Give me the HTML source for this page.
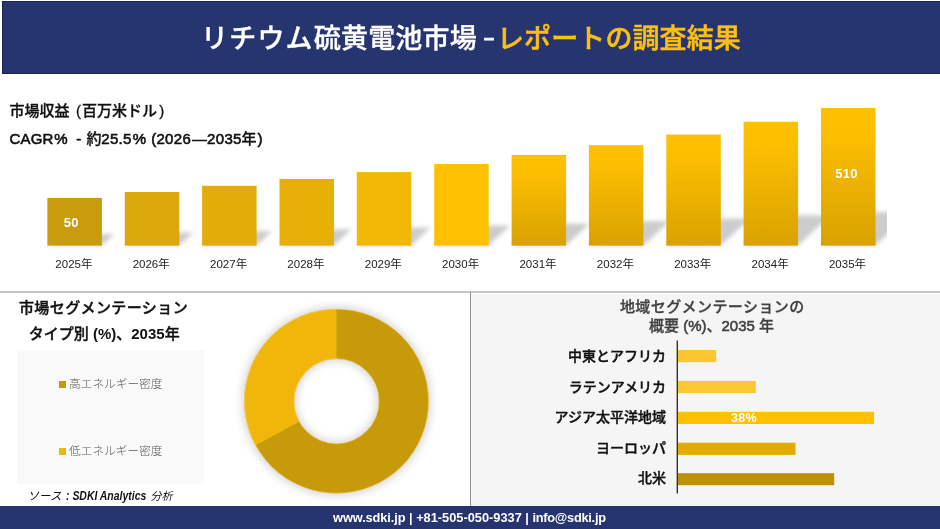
<!DOCTYPE html>
<html lang="ja">
<head>
<meta charset="utf-8">
<title>リチウム硫黄電池市場 – レポートの調査結果</title>
<style>
  html, body { margin: 0; padding: 0; }
  body { width: 940px; height: 529px; position: relative; overflow: hidden; background: #ffffff;
         font-family: "Liberation Sans", "Noto Sans CJK JP", sans-serif; color: #111; }
  .abs { position: absolute; white-space: nowrap; }
  #header { left: 1.6px; top: 1px; width: 939px; height: 72.7px; background: #263470; box-shadow: inset 0.6px 0.6px 0 0.2px #18204c, inset 0 -0.6px 0 0.2px #18204c; box-sizing: border-box; }
  .ttl { top: 19px; font-size: 27px; line-height: 40px; font-weight: 500; color: #fff; letter-spacing: 0.35px; -webkit-text-stroke: 0.35px currentColor; }
  .ttl.g { color: #fdc010; letter-spacing: 0.1px; -webkit-text-stroke: 0.5px currentColor; }
  #footer { left: 0; top: 506px; width: 940px; height: 23px; background: #263470; }
  #foottext { left: -0.6px; top: 506px; width: 940px; text-align: center; font-size: 12.8px; line-height: 23px; font-weight: 700; color: #fff; }
  .h1 { font-size: 15px; font-weight: 500; color: #111; line-height: 20px; -webkit-text-stroke: 0.6px currentColor; }
  .cj { -webkit-text-stroke: 0.3px currentColor !important; }
  .yr { font-size: 11.5px; color: #222; width: 78px; text-align: center; line-height: 14px; top: 256.5px; }
  .val { font-size: 13px; letter-spacing: 0.3px; font-weight: 700; color: #fff; text-align: center; line-height: 14px; }
  #hline { left: 0; top: 291px; width: 940px; height: 2px; background: #c6c6c6; }
  #vline { left: 470px; top: 292px; width: 1px; height: 214px; background: #909090; }
  #rpanel { left: 471px; top: 294px; width: 469px; height: 212px; background: #f5f5f5; }
  #lpanel { left: 17px; top: 350px; width: 187px; height: 134px; background: #f9f9f9; }
  .seg { font-size: 15px; font-weight: 500; color: #111; text-align: center; line-height: 20px; -webkit-text-stroke: 0.4px currentColor; }
  .seg b { font-weight: 700; -webkit-text-stroke: 0; }
  .leg { font-size: 11.7px; color: #595959; font-weight: 300; line-height: 14px; }
  .leg i { display: inline-block; width: 7px; height: 7px; margin-right: 3px; vertical-align: 0px; }
  .rt { font-size: 15px; font-weight: 500; color: #404040; text-align: center; line-height: 20px; width: 469px; left: 477px; -webkit-text-stroke: 0.3px currentColor; }
  .rt b { font-weight: 500; -webkit-text-stroke: 0.55px currentColor; }
  .rl { font-size: 14px; font-weight: 500; -webkit-text-stroke: 0.4px currentColor; color: #111; text-align: right; line-height: 18px; width: 200px; left: 466px; }
  #src { left: 29px; top: 487.8px; font-size: 11.5px; font-style: italic; font-weight: 700; color: #111; line-height: 16px; }
</style>
</head>
<body>
<div class="abs" id="header"></div>
<div class="abs ttl" style="left:201px; letter-spacing:0.18px;"><span style="letter-spacing:1.2px">リチウム</span>硫黄電池市場 </div>
<div class="abs ttl" style="left:484px; top:18px; font-size:18px; font-weight:700; -webkit-text-stroke:0.9px currentColor;">–</div>
<div class="abs ttl g" style="left:497px;">レポートの調査結果</div>

<div class="abs h1 cj" style="left:9.5px; top:101px;">市場収益<span style="margin-left:6.6px">(</span><span style="margin-left:0.8px">百万米ドル</span><span style="margin-left:2.3px">)</span></div>
<div class="abs h1" style="left:0; top:129px; width:280px; height:20px;"><span class="abs" style="left:9.6px; letter-spacing:0.1px;">CAGR</span><span class="abs" style="left:54.2px;">% </span><span class="abs" style="left:76.3px;">- </span><span class="abs cj" style="left:86.6px;">約</span><span class="abs" style="left:101.2px; letter-spacing:0.35px;">25.5</span><span class="abs" style="left:132.7px;">% </span><span class="abs" style="left:151.2px;">(</span><span class="abs" style="left:156.4px; letter-spacing:0.35px;">2026</span><span class="abs" style="left:191.8px; width:15.5px; overflow:hidden;">―</span><span class="abs" style="left:207px; letter-spacing:0.35px;">2035</span><span class="abs cj" style="left:241.4px;">年</span><span class="abs" style="left:257.4px;">)</span></div>

<svg class="abs" style="left:0; top:90px;" width="940" height="170" viewBox="0 90 940 170">
  <defs>
    <filter id="bl" x="-20%" y="-20%" width="140%" height="140%"><feGaussianBlur stdDeviation="2"/></filter>
    <clipPath id="cp"><rect x="30" y="90" width="857" height="170"/></clipPath>
    <linearGradient id="gA" x1="0" y1="0" x2="0" y2="1"><stop offset="0" stop-color="#ffc000"/><stop offset="0.2" stop-color="#fdbe00"/><stop offset="1" stop-color="#d8a200"/></linearGradient>
  </defs>
  <g id="shadows" clip-path="url(#cp)" filter="url(#bl)" fill="#000" fill-opacity="0.2">
    <polygon points="47.4,245.6 101.9,245.6 114.4,233.9 59.9,233.9"/>
    <polygon points="124.8,245.6 179.3,245.6 193.3,232.5 138.8,232.5"/>
    <polygon points="202.1,245.6 256.6,245.6 272.3,230.9 217.8,230.9"/>
    <polygon points="279.5,245.6 334.0,245.6 351.4,229.3 296.9,229.3"/>
    <polygon points="356.8,245.6 411.3,245.6 430.6,227.6 376.1,227.6"/>
    <polygon points="434.2,245.6 488.7,245.6 510.1,225.6 455.6,225.6"/>
    <polygon points="511.6,245.6 566.1,245.6 589.8,223.4 535.3,223.4"/>
    <polygon points="588.9,245.6 643.4,245.6 669.7,221.0 615.2,221.0"/>
    <polygon points="666.3,245.6 720.8,245.6 749.9,218.4 695.4,218.4"/>
    <polygon points="743.6,245.6 798.1,245.6 830.6,215.3 776.1,215.3"/>
    <polygon points="821.0,245.6 875.5,245.6 911.6,211.9 857.1,211.9"/>
  </g>
  <g id="bars">
    <rect x="47.4" y="198.0" width="54.5" height="47.6" fill="#c99c0b"/>
    <rect x="124.8" y="192.0" width="54.5" height="53.6" fill="#dba70a"/>
    <rect x="202.1" y="185.8" width="54.5" height="59.8" fill="#e2ad08"/>
    <rect x="279.5" y="179.0" width="54.5" height="66.6" fill="#e8b006"/>
    <rect x="356.8" y="172.1" width="54.5" height="73.5" fill="#f3b805"/>
    <rect x="434.2" y="164.0" width="54.5" height="81.6" fill="#fec001"/>
    <rect x="511.6" y="154.9" width="54.5" height="90.7" fill="url(#gA)"/>
    <rect x="588.9" y="145.2" width="54.5" height="100.4" fill="url(#gA)"/>
    <rect x="666.3" y="134.6" width="54.5" height="111.0" fill="url(#gA)"/>
    <rect x="743.6" y="121.8" width="54.5" height="123.8" fill="url(#gA)"/>
    <rect x="821.0" y="108.0" width="54.5" height="137.6" fill="url(#gA)"/>
  </g>
</svg>

<div class="abs val" style="left:43.7px; top:215.5px; width:55px;">50</div>
<div class="abs val" style="left:819px; top:167px; width:55px;">510</div>

<div id="years">
<div class="abs yr" style="left:34.9px;">2025年</div>
<div class="abs yr" style="left:112.2px;">2026年</div>
<div class="abs yr" style="left:189.6px;">2027年</div>
<div class="abs yr" style="left:266.9px;">2028年</div>
<div class="abs yr" style="left:344.3px;">2029年</div>
<div class="abs yr" style="left:421.6px;">2030年</div>
<div class="abs yr" style="left:499.0px;">2031年</div>
<div class="abs yr" style="left:576.4px;">2032年</div>
<div class="abs yr" style="left:653.7px;">2033年</div>
<div class="abs yr" style="left:731.1px;">2034年</div>
<div class="abs yr" style="left:808.5px;">2035年</div>
</div>

<div class="abs" id="hline"></div>
<div class="abs" id="rpanel"></div>
<div class="abs" id="vline"></div>
<div class="abs" id="lpanel"></div>

<div class="abs seg" style="left:3.5px; top:297.6px; width:200px; letter-spacing:0.4px;">市場セグメンテーション</div>
<div class="abs seg" style="left:4.2px; top:324px; width:200px;">タイプ別 <b>(%)</b>、<b>2035</b>年</div>
<div class="abs leg" style="left:59px; top:377px;"><i style="background:#c69a09"></i>高エネルギー密度</div>
<div class="abs leg" style="left:59px; top:444px;"><i style="background:#f0b70a"></i>低エネルギー密度</div>
<div class="abs" id="src"><span class="abs" style="left:-1.5px; font-weight:400; font-size:11.5px;">ソース </span><span class="abs" id="srcl" style="left:37px; font-size:12px; transform-origin:0 50%; transform:scaleX(0.87);">: SDKI Analytics </span><span class="abs" style="left:121.5px; font-weight:400; font-size:11px;">分析</span></div>

<svg class="abs" style="left:230px; top:294px;" width="240" height="212" viewBox="230 294 240 212">
  <defs><filter id="db" x="-50%" y="-50%" width="200%" height="200%"><feGaussianBlur stdDeviation="4"/></filter></defs>
  <circle cx="336.5" cy="401.2" r="67.4" fill="none" stroke="#000" stroke-opacity="0.17" stroke-width="54" filter="url(#db)"/>
  <circle cx="336.5" cy="401.2" r="67.3" fill="none" stroke="#c69a09" stroke-width="50"/>
  <path id="light" fill="#f0b70a" d="M255.54,445.52 A92.3,92.3 0 0 1 336.5,308.9 L336.5,358.9 A42.3,42.3 0 0 0 299.40,421.51 Z"/>
  <circle cx="336.5" cy="401.2" r="92.1" fill="none" stroke="#ffe39a" stroke-opacity="0.7" stroke-width="0.7"/>
  <circle cx="336.5" cy="401.2" r="42.5" fill="none" stroke="#ffe39a" stroke-opacity="0.7" stroke-width="0.7"/>
</svg>

<div class="abs rt" style="top:296.6px; margin-left:0.8px; letter-spacing:0.42px;">地域セグメンテーションの</div>
<div class="abs rt" style="top:316px;">概要 <b>(%)</b>、<b>2035</b> 年</div>

<svg class="abs" style="left:660px; top:335px;" width="280" height="165" viewBox="660 335 280 165">
  <rect x="677.7" y="350" width="38.5" height="12.2" fill="#fcc630"/>
  <rect x="677.7" y="380.9" width="78.1" height="12.2" fill="#fbc734"/>
  <rect x="677.7" y="411.8" width="196.4" height="12.2" fill="#ffc000"/>
  <rect x="677.7" y="442.7" width="117.8" height="12.2" fill="#e2ab00"/>
  <rect x="677.7" y="473.2" width="156.5" height="12" fill="#bf9000"/>
  <rect x="676.6" y="340.5" width="1.4" height="153" fill="#333"/>
</svg>
<div class="abs val" style="left:724px; top:411.4px; width:40px; font-size:12.5px;">38%</div>

<div class="abs rl" style="top:347px;">中東とアフリカ</div>
<div class="abs rl" style="top:378px;">ラテンアメリカ</div>
<div class="abs rl" style="top:408.2px;">アジア太平洋地域</div>
<div class="abs rl" style="top:439.2px;">ヨーロッパ</div>
<div class="abs rl" style="top:469.4px;">北米</div>

<div class="abs" id="footer"></div>
<div class="abs" id="foottext"><span style="letter-spacing:-0.1px">www.sdki.jp</span> | +81-505-050-9337 | <span style="letter-spacing:-0.27px">info@sdki.jp</span></div>
</body>
</html>
